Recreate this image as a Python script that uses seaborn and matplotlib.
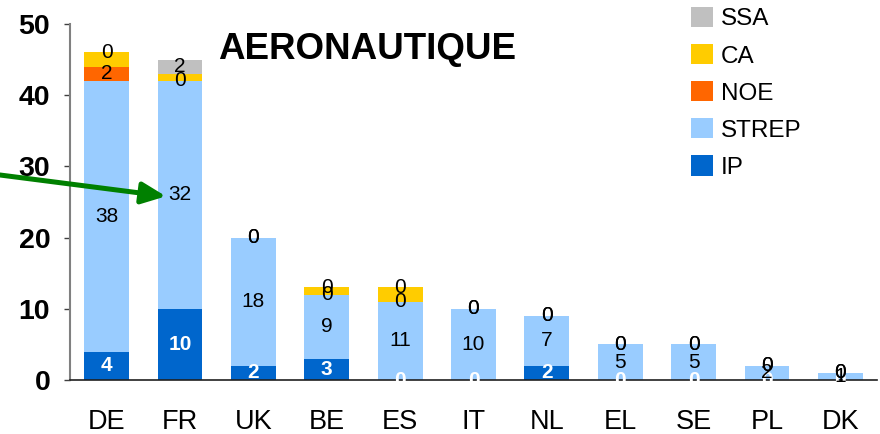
import numpy as np
import matplotlib
matplotlib.use("Agg")
import matplotlib.pyplot as plt
import seaborn as sns

countries = ["DE", "FR", "UK", "BE", "ES", "IT", "NL", "EL", "SE", "PL", "DK"]
ip_vals    = [4, 10, 2, 3, 0, 0, 2, 0, 0, 0, 0]
strep_vals = [38, 32, 18, 9, 11, 10, 7, 5, 5, 2, 1]
noe_vals   = [2, 0, 0, 0, 0, 0, 0, 0, 0, 0, 0]
ca_vals    = [2, 1, 0, 1, 2, 0, 0, 0, 0, 0, 0]
ssa_vals   = [0, 2, 0, 0, 0, 0, 0, 0, 0, 0, 0]
y_ticks = [0, 10, 20, 30, 40, 50]
title = "AERONAUTIQUE"

series = [
    ("IP", ip_vals, "#0066CC", "white", "bold", True),
    ("STREP", strep_vals, "#99CCFF", "black", "normal", True),
    ("NOE", noe_vals, "#FF6600", "black", "normal", True),
    ("CA", ca_vals, "#FFCC00", "black", "normal", False),
    ("SSA", ssa_vals, "#C0C0C0", "black", "normal", True),
]

sns.set_style("white")
plt.rcParams["font.family"] = ["Liberation Sans", "DejaVu Sans"]
plt.rcParams["text.color"] = "black"
plt.rcParams["xtick.labelcolor"] = "black"
plt.rcParams["ytick.labelcolor"] = "black"

W, H = 880, 434
fig = plt.figure(figsize=(W / 100, H / 100), dpi=100)
ax = fig.add_axes([70 / W, 1 - 380 / H, (877 - 70) / W, (380 - 24) / H])

bottom = np.zeros(len(countries))
for name, vals, col, tcol, tweight, show in series:
    sns.barplot(x=countries, y=vals, bottom=bottom.copy(), color=col, saturation=1,
                width=0.61, errorbar=None, label=name, ax=ax, linewidth=0)
    cont = ax.containers[-1]
    if show:
        texts = ax.bar_label(cont, labels=[str(v) for v in vals], label_type="center",
                             color=tcol, fontweight=tweight, fontsize=15)
        for t in texts:
            t.set_clip_on(True)
    bottom += np.array(vals, dtype=float)

ax.set_xlim(-0.5, len(countries) - 0.5)
ax.set_ylim(0, 50)
ax.set_yticks(y_ticks)
ax.set_yticklabels([str(v) for v in y_ticks], fontsize=20.5, fontweight="bold")
ax.set_xticks(range(len(countries)))
ax.set_xticklabels(countries, fontsize=19.5)
ax.set_xticks(np.arange(-0.5, len(countries), 1), minor=True)
ax.tick_params(axis="x", which="major", length=0, pad=21)
ax.tick_params(axis="x", which="minor", length=4.3, direction="out", color="#808080", width=1)
ax.tick_params(axis="y", which="major", length=4.3, direction="out", color="#404040", width=1, pad=10, left=True)
ax.set_xlabel("")
ax.set_ylabel("")
for s in ["top", "right"]:
    ax.spines[s].set_visible(False)
ax.spines["left"].set_color("#808080")
ax.spines["left"].set_linewidth(1.5)
ax.spines["bottom"].set_color("#202020")
ax.spines["bottom"].set_linewidth(1.2)

handles, labels = ax.get_legend_handles_labels()
leg = ax.legend(handles[::-1], labels[::-1], loc="upper left",
                bbox_to_anchor=(691 / W, 1 - 7 / H), bbox_transform=fig.transFigure,
                frameon=False, fontsize=17.5, handlelength=0.9, handleheight=0.9,
                handletextpad=0.33, labelspacing=0.56, borderpad=0, borderaxespad=0)

fig.text(367 / W, 1 - 59 / H, title, ha="center", va="baseline",
         fontsize=26.5, fontweight="bold")

ax.annotate("", xy=(0.808, 25.8), xycoords="data",
            xytext=(0, 1 - 175 / H), textcoords="figure fraction",
            arrowprops=dict(arrowstyle="-|>,head_length=1.45,head_width=0.65",
                            color="#008000", lw=3.6, shrinkA=0, shrinkB=0,
                            mutation_scale=10),
            annotation_clip=False)

fig.savefig("out.png", dpi=100)
